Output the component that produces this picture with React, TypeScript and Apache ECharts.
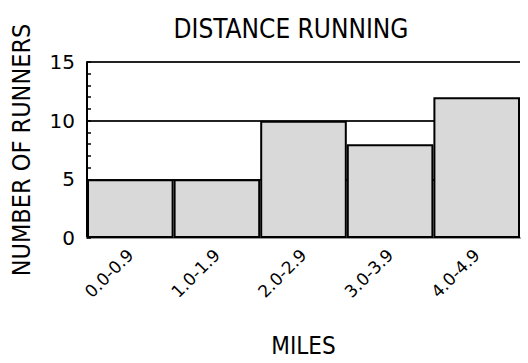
import React, { useEffect, useRef } from "react";
import * as echarts from "echarts";

const categories = ["0.0-0.9", "1.0-1.9", "2.0-2.9", "3.0-3.9", "4.0-4.9"];
const runners = [5, 5, 10, 8, 12];
const yTicks = { min: 0, max: 15, interval: 5 };

const FONT = "DejaVu Sans Condensed";

export default function App() {
  const ref = useRef<HTMLDivElement>(null);
  useEffect(() => {
    document.body.style.margin = "0";
    if (!ref.current) return;
    const chart = echarts.init(ref.current, undefined, { renderer: "svg" });
    chart.setOption({
      animation: false,
      backgroundColor: "#ffffff",
      title: {
        text: "DISTANCE RUNNING",
        left: 286,
        top: 11,
        textAlign: "center",
        textStyle: { fontFamily: FONT, fontSize: 26, fontWeight: "normal", color: "#000" },
      },
      grid: {
        left: 87,
        right: 8,
        top: 62,
        bottom: 125,
        containLabel: false,
        outerBoundsMode: "none",
      },
      xAxis: {
        type: "category",
        data: categories,
        name: "MILES",
        nameLocation: "middle",
        nameGap: 96,
        nameTextStyle: { fontFamily: FONT, fontSize: 24, color: "#000" },
        axisLine: { lineStyle: { color: "#999", width: 2 } },
        axisTick: { show: false },
        axisLabel: {
          rotate: 45,
          interval: 0,
          margin: 14,
          fontFamily: "DejaVu Sans",
          fontSize: 17,
          color: "#000",
        },
      },
      yAxis: {
        type: "value",
        min: yTicks.min,
        max: yTicks.max,
        interval: yTicks.interval,
        name: "NUMBER OF RUNNERS",
        nameLocation: "middle",
        nameGap: 53,
        nameTextStyle: { fontFamily: FONT, fontSize: 25, color: "#000" },
        axisLine: { show: true, lineStyle: { color: "#000", width: 2 } },
        axisTick: { show: true, inside: true, length: 4, lineStyle: { color: "#000", width: 1.5 } },
        minorTick: { show: true, splitNumber: 5, length: 4, lineStyle: { color: "#000", width: 1.5 } },
        axisLabel: { margin: 12, fontFamily: "DejaVu Sans", fontSize: 20, color: "#000" },
        splitLine: { show: true, lineStyle: { color: "#222", width: 2 } },
      },
      series: [
        {
          type: "bar",
          data: runners,
          barWidth: "100%",
          itemStyle: { color: "#d9d9d9", borderColor: "#000", borderWidth: 2 },
        },
      ],
    });
    return () => chart.dispose();
  }, []);
  return <div ref={ref} style={{ width: 528, height: 363 }} />;
}
